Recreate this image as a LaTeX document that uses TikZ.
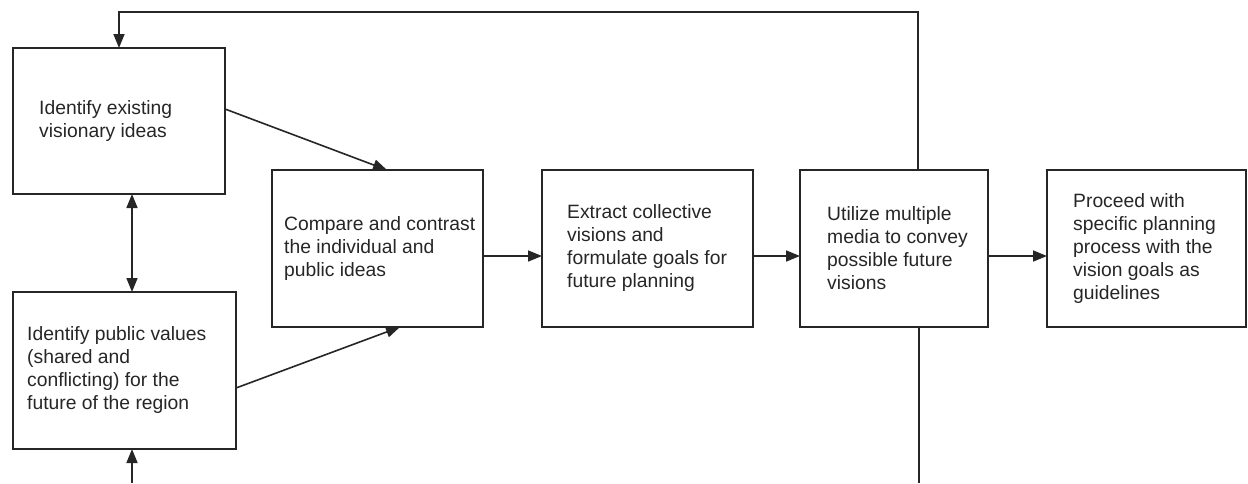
\documentclass[tikz,border=0pt]{standalone}
\usepackage{fontspec}
\setmainfont{Liberation Sans}
\usetikzlibrary{arrows.meta}
\begin{document}
\begin{tikzpicture}[x=1pt,y=-1pt,
  box/.style={draw=black!85, line width=1.6pt, inner sep=0pt, outer sep=0pt},
  txt/.style={anchor=west, align=left, inner sep=0pt, text=black!85,
    font=\fontsize{19.3}{23}\selectfont},
  conn/.style={draw=black!85, line width=1.6pt},
  arr/.style={conn, -{Triangle[length=14pt,width=11pt]}},
  darr/.style={conn, {Triangle[length=14pt,width=11pt]}-{Triangle[length=14pt,width=11pt]}}]
\useasboundingbox (0,0) rectangle (1248,483);
\node[box, minimum width=212pt, minimum height=146pt] (A) at (119,121) {};
\node[txt] (At) at ([xshift=26pt]A.west) {Identify existing\\visionary ideas};
\node[box, minimum width=223pt, minimum height=157pt] (B) at (124.5,370.5) {};
\node[txt] (Bt) at ([xshift=14pt]B.west) {Identify public values\\(shared and\\conflicting) for the\\future of the region};
\node[box, minimum width=211pt, minimum height=157pt] (C) at (377.5,248.5) {};
\node[txt] (Ct) at ([xshift=12pt]C.west) {Compare and contrast\\the individual and\\public ideas};
\node[box, minimum width=211pt, minimum height=157pt] (D) at (647.5,248.5) {};
\node[txt] (Dt) at ([xshift=25pt]D.west) {Extract collective\\visions and\\formulate goals for\\future planning};
\node[box, minimum width=188pt, minimum height=157pt] (E) at (894,248.5) {};
\node[txt] (Et) at ([xshift=27pt]E.west) {Utilize multiple\\media to convey\\possible future\\visions};
\node[box, minimum width=199pt, minimum height=157pt] (F) at (1146.5,248.5) {};
\node[txt] (Ft) at ([xshift=26pt]F.west) {Proceed with\\specific planning\\process with the\\vision goals as\\guidelines};
\coordinate (tl) at (119,12);
\coordinate (bl) at (132,483);
\coordinate (br) at (919,483);
\draw[arr] ([yshift=12pt]A.east) -- ([xshift=9.5pt]C.north);
\draw[arr] ([yshift=-17.5pt]B.east) -- ([xshift=22.5pt]C.south);
\draw[darr] ([xshift=13pt]A.south) -- ([xshift=7.5pt]B.north);
\draw[arr] (bl) -- ([xshift=7.5pt]B.south);
\draw[arr] ([yshift=-7.5pt]C.east) -- ([yshift=-7.5pt]D.west);
\draw[arr] ([yshift=-7.5pt]D.east) -- ([yshift=-7.5pt]E.west);
\draw[arr] ([yshift=-7.5pt]E.east) -- ([yshift=-7.5pt]F.west);
\draw[arr] ([xshift=24pt]E.north) |- (tl) -- (A.north);
\draw[conn] ([xshift=25pt]E.south) -- (br);
\end{tikzpicture}
\end{document}
